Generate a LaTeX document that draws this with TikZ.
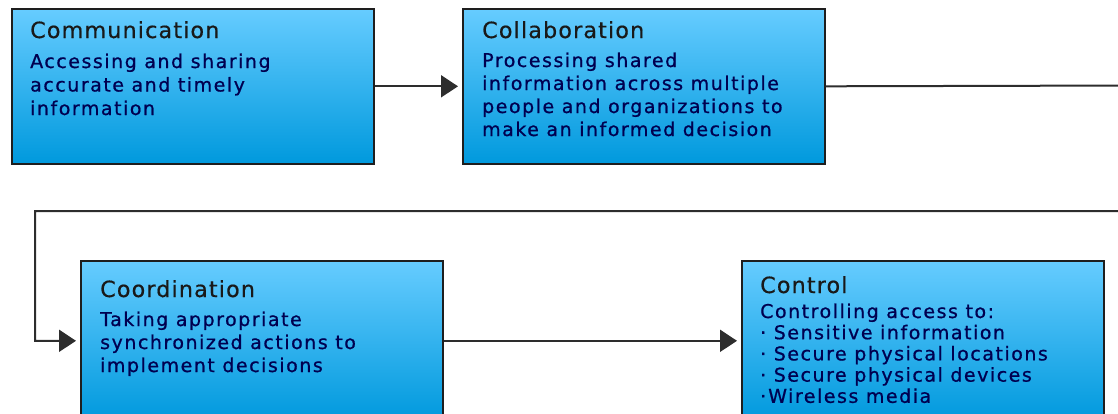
\documentclass[tikz,border=0pt]{standalone}
\usepackage{fontspec}
\usetikzlibrary{arrows.meta}
\newfontfamily\titlefont[LetterSpace=5,FakeBold=0.5]{DejaVu Sans}
\newfontfamily\bodyfont[LetterSpace=8,FakeBold=0.8]{DejaVu Sans}
\definecolor{boxtop}{RGB}{102,204,255}
\definecolor{boxbot}{RGB}{0,153,221}
\definecolor{bodytext}{RGB}{0,0,80}
\definecolor{edge}{RGB}{30,30,30}
\definecolor{wire}{RGB}{45,45,45}

\tikzset{
  stage/.style={draw=edge, line width=1.6pt, top color=boxtop, bottom color=boxbot,
    minimum width=362pt, anchor=north west, inner sep=0pt},
  stagetitle/.style={anchor=base west, inner sep=0pt,
    font=\titlefont\fontsize{22.3}{22.3}\selectfont, text=black!90},
  stagebody/.style={anchor=base west, inner sep=0pt, text=bodytext},
  flow/.style={draw=wire, line width=2pt, shorten >=4pt,
    -{Triangle[length=17pt,width=22pt]}},
}
\newcommand{\bodylines}[2]{{\bodyfont\fontsize{19}{#1}\selectfont
  \begin{tabular}[t]{@{}l@{}}#2\end{tabular}}}

\begin{document}
\begin{tikzpicture}[x=1pt,y=-1pt]
  \useasboundingbox (0,0) rectangle (1118,413);
  \clip (0,0) rectangle (1118,413);

  % stage boxes
  \node[stage, minimum height=155pt] (comm)  at (11,8) {};
  \node[stage, minimum height=155pt] (coll)  at (462,8) {};
  \node[stage, minimum height=160pt] (coord) at (80,260) {};
  \node[stage, minimum height=160pt] (ctrl)  at (741,260) {};

  % titles
  \node[stagetitle] (commT)  at (30,38)  {Communication};
  \node[stagetitle] (collT)  at (482,38) {Collaboration};
  \node[stagetitle] (coordT) at (100,297) {Coordination};
  \node[stagetitle] (ctrlT)  at (760,293) {Control};

  % descriptions
  \node[stagebody] (commB) at (30,68) {\bodylines{23.5pt}{Accessing and sharing\\
    accurate and timely\\ information}};
  \node[stagebody] (collB) at (482,67) {\bodylines{23pt}{Processing shared\\
    information across multiple\\ people and organizations to\\
    make an informed decision}};
  \node[stagebody] (coordB) at (100,326) {\bodylines{23pt}{Taking appropriate\\
    synchronized actions to\\ implement decisions}};
  \node[stagebody] (ctrlB) at (760,318) {\bodylines{21.2pt}{Controlling access to:\\
    · Sensitive information\\ · Secure physical locations\\
    · Secure physical devices\\ ·\hspace{2pt}Wireless media}};

  % connectors
  \coordinate (loopA) at (1135,85.5);
  \coordinate (loopB) at (1135,211);
  \coordinate (loopC) at (35,211);
  \draw[flow] (comm.east) -- (coll.west);
  \draw[flow] (coll.east) -- (loopA) -- (loopB) -- (loopC) |- (coord.west);
  \draw[flow] (coord.east) -- (ctrl.west);
\end{tikzpicture}
\end{document}
